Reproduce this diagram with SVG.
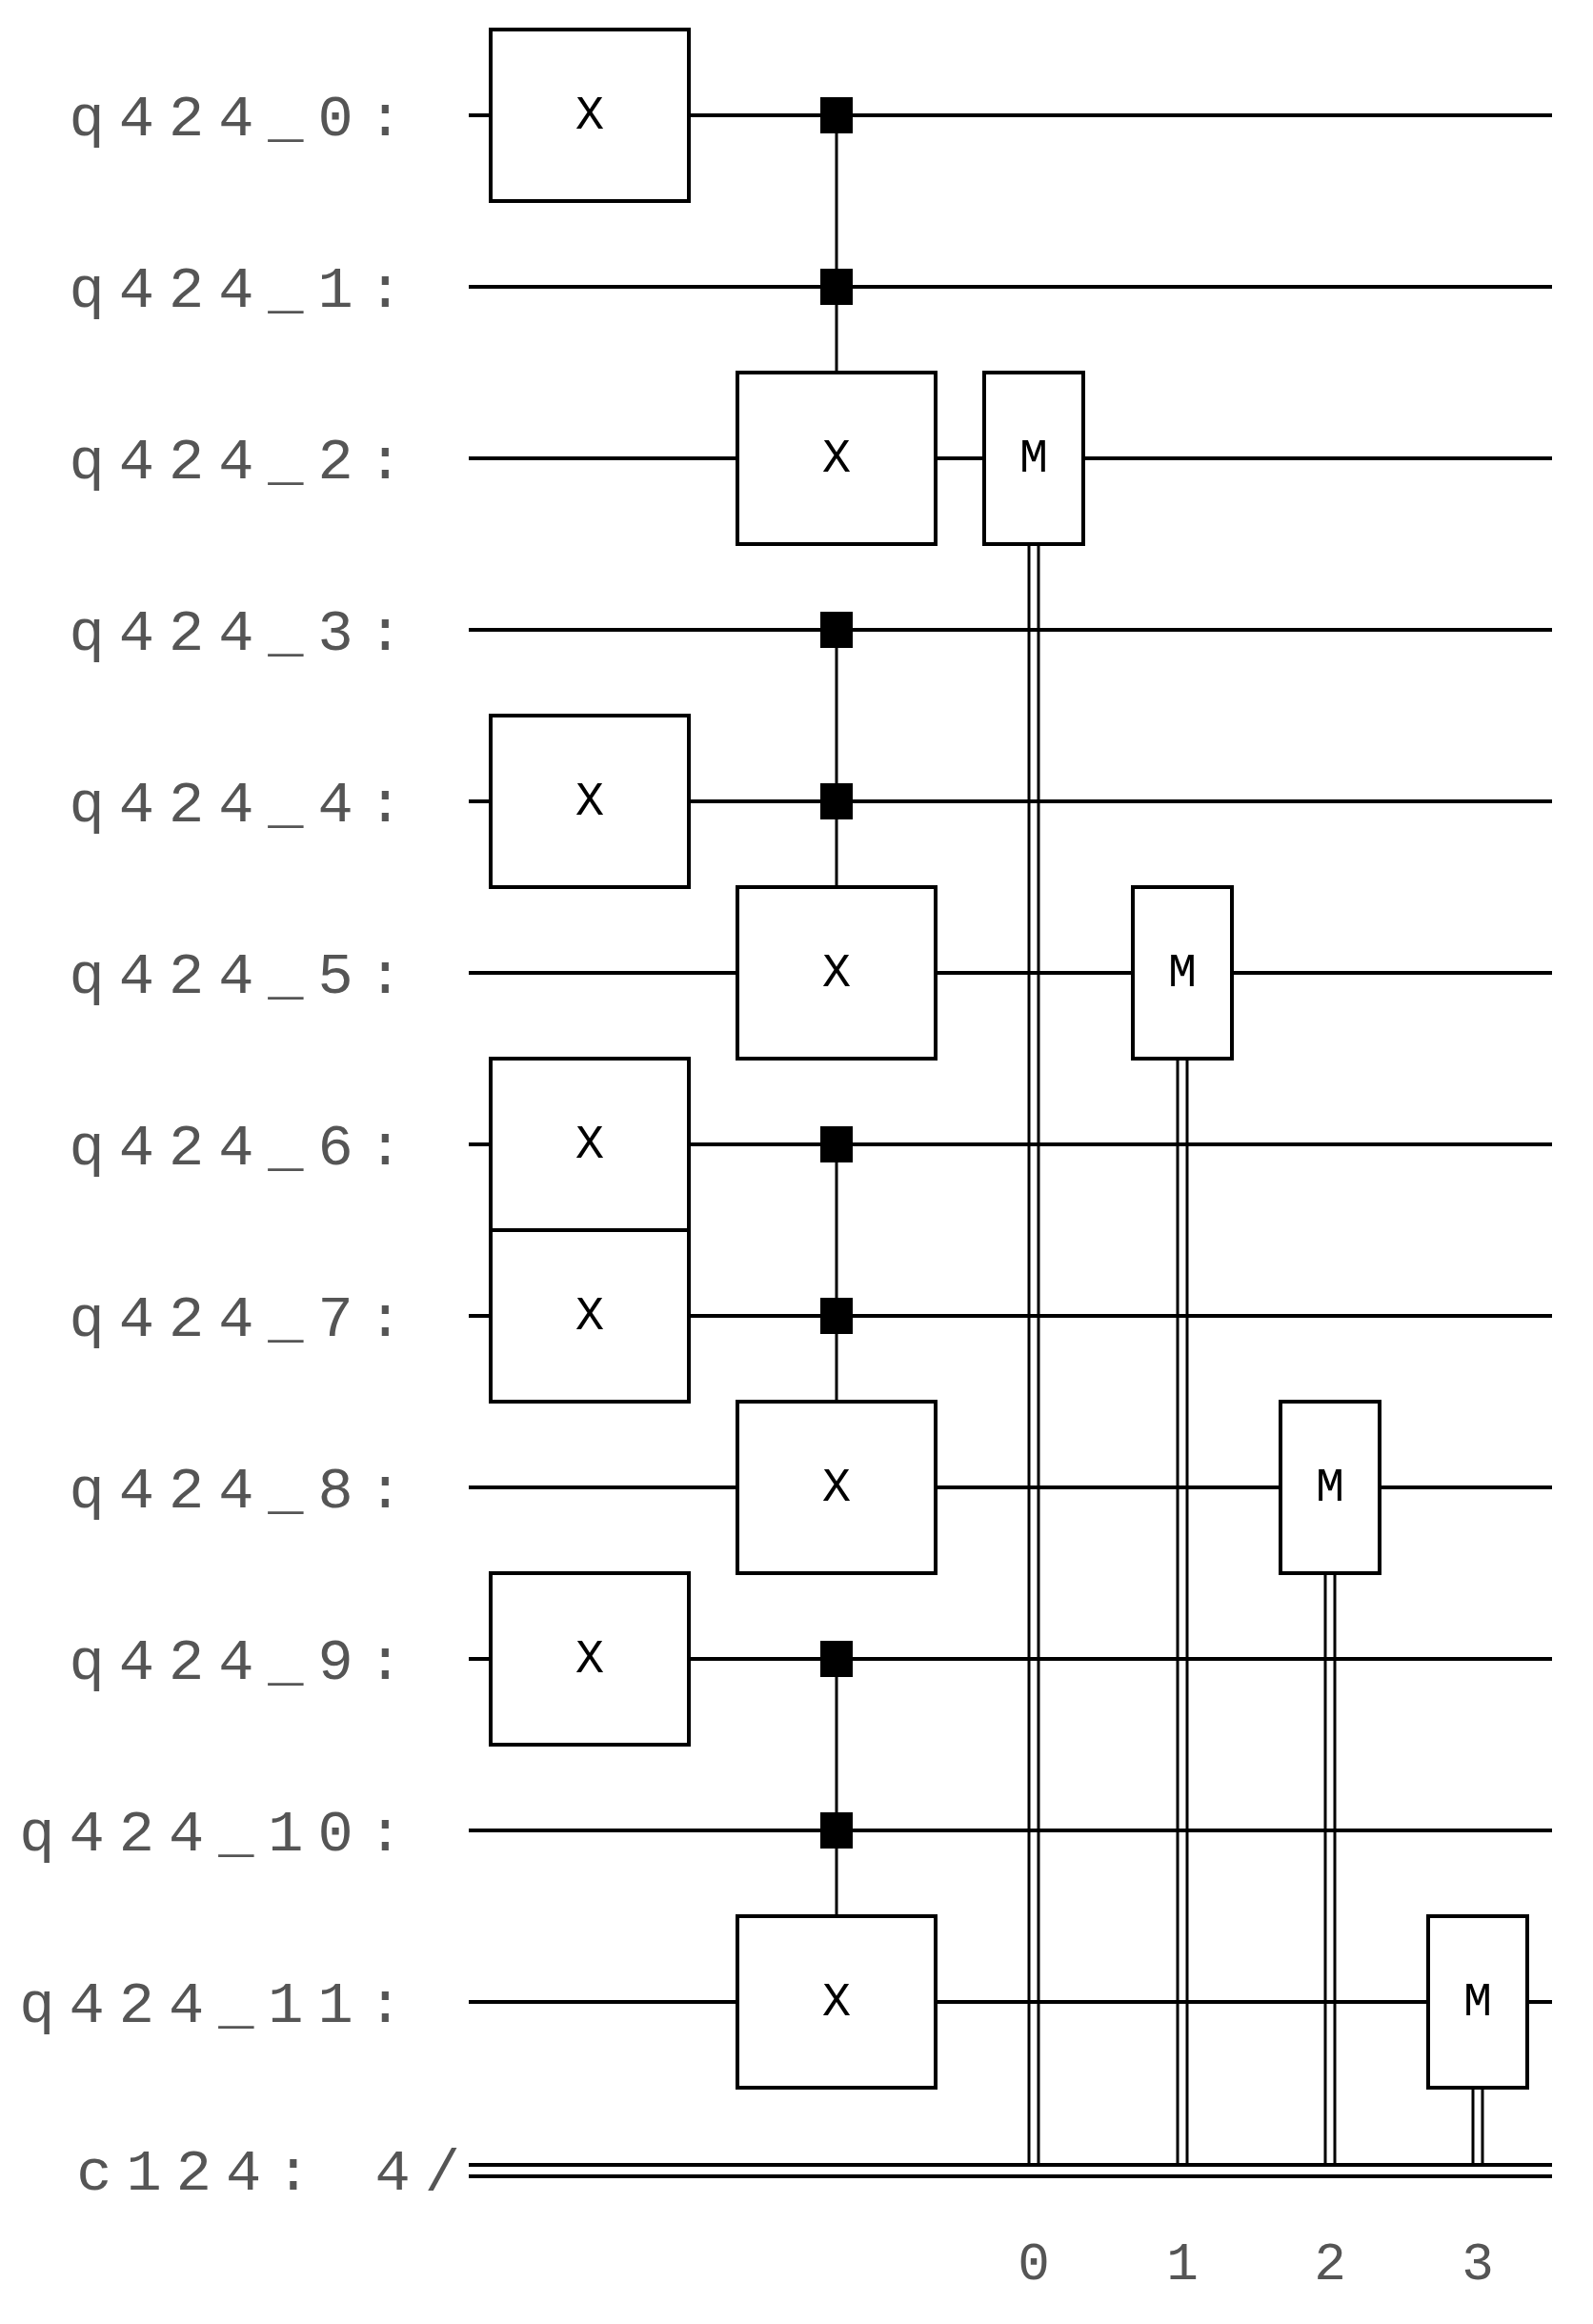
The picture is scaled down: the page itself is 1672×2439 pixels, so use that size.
<svg xmlns="http://www.w3.org/2000/svg" width="1672" height="2439" viewBox="0 0 1672 2439">
<style>
.w{stroke:#000;stroke-width:4;fill:none}
.c{stroke:#000;stroke-width:3;fill:none}
.g{fill:#fff;stroke:#000;stroke-width:4}
.lbl{font-family:"Liberation Mono",monospace;font-size:62px;fill:#555;text-anchor:end;letter-spacing:15px}
.gt{font-family:"Liberation Mono",monospace;font-size:50px;fill:#000;text-anchor:middle;dominant-baseline:central}
.n{font-family:"Liberation Mono",monospace;font-size:56px;fill:#555;text-anchor:middle}
</style>
<defs>
<rect id="xb" x="-104" y="-90" width="208" height="180" class="g"/>
<rect id="mb" x="-52" y="-90" width="104" height="180" class="g"/>
<rect id="ct" x="-17" y="-19" width="34" height="38" fill="#000"/>
</defs>
<g id="labels">
<text class="lbl" x="438" y="142">q424_0:</text>
<text class="lbl" x="438" y="322">q424_1:</text>
<text class="lbl" x="438" y="502">q424_2:</text>
<text class="lbl" x="438" y="682">q424_3:</text>
<text class="lbl" x="438" y="862">q424_4:</text>
<text class="lbl" x="438" y="1042">q424_5:</text>
<text class="lbl" x="438" y="1222">q424_6:</text>
<text class="lbl" x="438" y="1402">q424_7:</text>
<text class="lbl" x="438" y="1582">q424_8:</text>
<text class="lbl" x="438" y="1762">q424_9:</text>
<text class="lbl" x="438" y="1942">q424_10:</text>
<text class="lbl" x="438" y="2122">q424_11:</text>
<text class="lbl" x="498" y="2298">c124: 4/</text>
</g>
<g id="connectors">
<path class="w" d="M492 121H1629M492 301H1629M492 481H1629M492 661H1629M492 841H1629M492 1021H1629M492 1201H1629M492 1381H1629M492 1561H1629M492 1741H1629M492 1921H1629M492 2101H1629"/>
<path class="w" d="M492 2272H1629M492 2284H1629"/>
<path class="c" d="M878 121V391M878 661V931M878 1201V1471M878 1741V2011"/>
<path class="c" d="M1080 571V2272M1090 571V2272M1236 1111V2272M1246 1111V2272M1391 1651V2272M1401 1651V2272M1546 2191V2272M1556 2191V2272"/>
</g>
<g id="x1"><use href="#xb" x="619" y="121"/><text class="gt" x="619" y="121">X</text></g>
<g id="x2"><use href="#xb" x="619" y="841"/><text class="gt" x="619" y="841">X</text></g>
<g id="x3"><use href="#xb" x="619" y="1201"/><text class="gt" x="619" y="1201">X</text></g>
<g id="x4"><use href="#xb" x="619" y="1381"/><text class="gt" x="619" y="1381">X</text></g>
<g id="x5"><use href="#xb" x="619" y="1741"/><text class="gt" x="619" y="1741">X</text></g>
<g id="cx1"><use href="#ct" x="878" y="121"/><use href="#ct" x="878" y="301"/><use href="#xb" x="878" y="481"/><text class="gt" x="878" y="481">X</text></g>
<g id="cx2"><use href="#ct" x="878" y="661"/><use href="#ct" x="878" y="841"/><use href="#xb" x="878" y="1021"/><text class="gt" x="878" y="1021">X</text></g>
<g id="cx3"><use href="#ct" x="878" y="1201"/><use href="#ct" x="878" y="1381"/><use href="#xb" x="878" y="1561"/><text class="gt" x="878" y="1561">X</text></g>
<g id="cx4"><use href="#ct" x="878" y="1741"/><use href="#ct" x="878" y="1921"/><use href="#xb" x="878" y="2101"/><text class="gt" x="878" y="2101">X</text></g>
<g id="m0"><use href="#mb" x="1085" y="481"/><text class="gt" x="1085" y="481">M</text></g>
<g id="m1"><use href="#mb" x="1241" y="1021"/><text class="gt" x="1241" y="1021">M</text></g>
<g id="m2"><use href="#mb" x="1396" y="1561"/><text class="gt" x="1396" y="1561">M</text></g>
<g id="m3"><use href="#mb" x="1551" y="2101"/><text class="gt" x="1551" y="2101">M</text></g>
<g id="bits">
<text class="n" x="1085" y="2392">0</text>
<text class="n" x="1241" y="2392">1</text>
<text class="n" x="1396" y="2392">2</text>
<text class="n" x="1551" y="2392">3</text>
</g>
</svg>
